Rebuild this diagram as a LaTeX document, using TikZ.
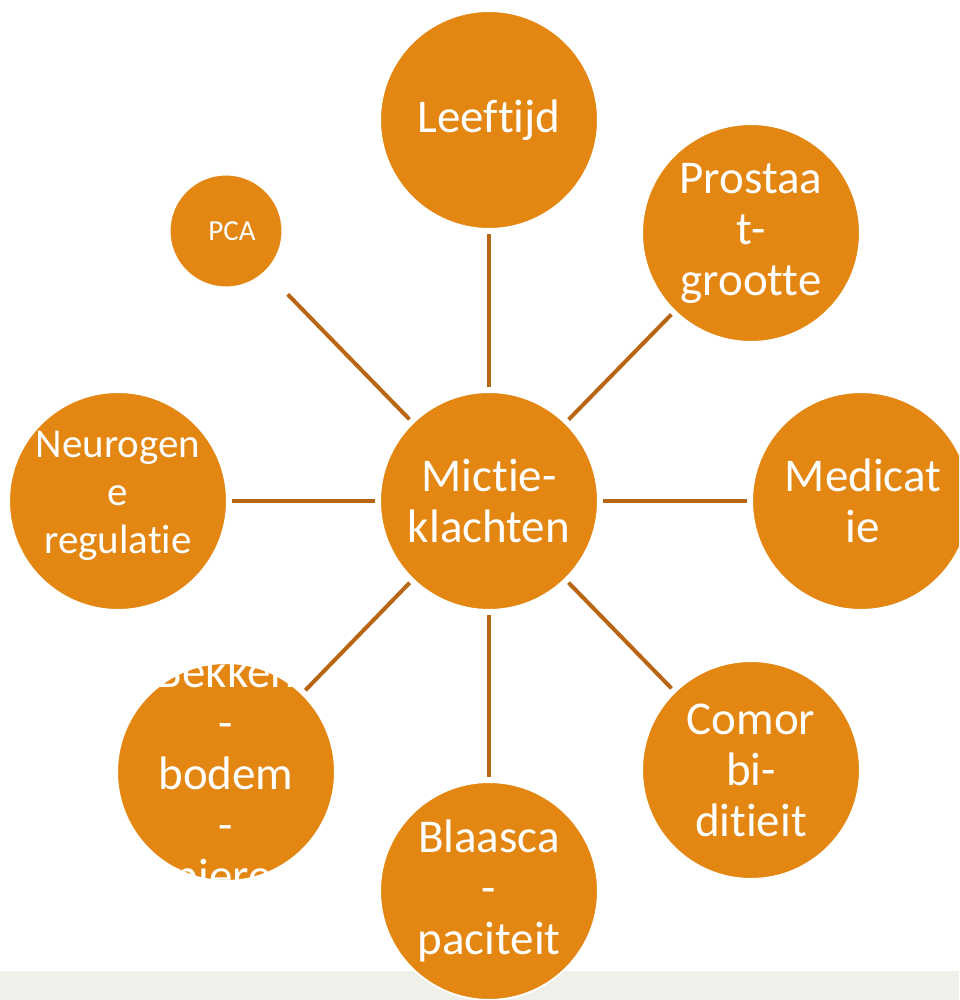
\documentclass[tikz,border=0pt]{standalone}
\usepackage{fontspec}
\setmainfont{Carlito}[Ligatures={NoCommon,NoRequired,NoContextual}]
\definecolor{orng}{RGB}{227,134,18}
\definecolor{conn}{RGB}{184,102,20}
\definecolor{band}{RGB}{240,240,235}
\begin{document}
\begin{tikzpicture}[x=1pt,y=-1pt,
 bub/.style={circle,fill=orng,draw=white,line width=2pt,minimum size=218pt,inner sep=0pt},
 smallbub/.style={circle,fill=orng,draw=white,line width=1pt,minimum size=112pt,inner sep=0pt},
 lbl/.style={text=white,align=center,font=\fontsize{47}{51}\selectfont,inner sep=0pt},
 link/.style={draw=conn,line width=4pt,shorten <=4pt,shorten >=4pt}]
\useasboundingbox (0,0) rectangle (959,1000);
\clip (0,0) rectangle (959,1000);
\fill[band] (0,971) rectangle (959,1000);
% circles
\node[bub] (ctr) at (489,501) {};
\node[bub] (lee) at (489,120) {};
\node[bub] (pro) at (751,233) {};
\node[bub] (med) at (861,501) {};
\node[bub] (com) at (751,770) {};
\node[bub] (bla) at (489,891) {};
\node[bub] (bek) at (226,772) {};
\node[bub] (neu) at (118,501) {};
\node[smallbub] (pca) at (226,231) {};
% connectors
\draw[link] (ctr) -- (lee);
\draw[link] (ctr) -- (pro);
\draw[link] (ctr) -- (med);
\draw[link] (ctr) -- (com);
\draw[link] (ctr) -- (bla);
\draw[link] (ctr) -- (bek);
\draw[link] (ctr) -- (neu);
\draw[link,shorten >=32pt] (ctr) -- (pca);
% labels
\node[lbl] (tctr) at (ctr.center) {Mictie-\\klachten};
\node[lbl] (tlee) at (lee.center) {Leeftijd};
\node[lbl] (tpro) at (pro.center) {Prostaa\\t-\\grootte};
\node[lbl,xshift=2pt] (tmed) at (med.center) {Medicat\\ie};
\node[lbl] (tcom) at (com.center) {Comor\\bi-\\ditieit};
\node[lbl] (tbla) at (bla.center) {Blaasca\\-\\paciteit};
\node[lbl,yshift=-5pt] (tbek) at (bek.center) {Bekken\\-\\bodem\\-\\spieren};
\node[lbl,yshift=5pt,font=\fontsize{41}{48}\selectfont] (tneu) at (neu.center) {Neurogen\\e\\regulatie};
\node[lbl,xshift=6pt,font=\fontsize{29}{32}\selectfont] (tpca) at (pca.center) {PCA};
\end{tikzpicture}
\end{document}
